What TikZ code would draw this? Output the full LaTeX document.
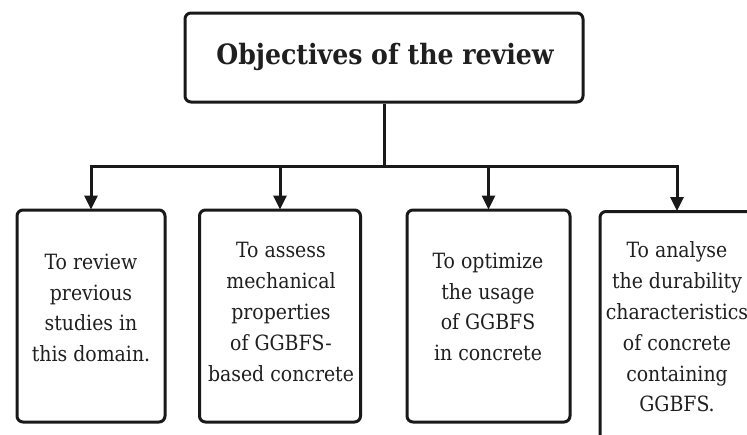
\documentclass[tikz,border=0pt]{standalone}
\usepackage{fontspec}
\setmainfont{DejaVu Serif Condensed}
\usetikzlibrary{arrows.meta}
\tikzset{
  x=1pt, y=-1pt,
  box/.style={draw=black!90, line width=3pt, rounded corners=6pt, inner sep=0pt},
  body/.style={align=center, inner sep=0pt, font=\fontsize{21}{30.8}\selectfont, text=black!88},
  conn/.style={draw=black!90, line width=3pt},
  arr/.style={conn, -{Triangle[length=14pt,width=13pt]}, shorten >=-1pt},
}
\begin{document}
\begin{tikzpicture}
\clip (0,0) rectangle (747,434);
\fill[white] (0,0) rectangle (747,434);
% top box
\node[box, minimum width=398pt, minimum height=89pt] (top) at (384,57.5) {};
\node[font=\bfseries\fontsize{28}{32}\selectfont, text=black!88] (toptxt) at (385,57) {Objectives of the review};
% child boxes
\node[box, minimum width=148pt, minimum height=212pt] (b1) at (91,316) {};
\node[box, minimum width=161pt, minimum height=212pt] (b2) at (280,316) {};
\node[box, minimum width=163pt, minimum height=212pt] (b3) at (488.5,316) {};
\node[box, minimum width=154pt, minimum height=260pt, anchor=north] (b4) at (677,210) {};
% texts
\node[body] (t1) at (91,308) {To review\\previous\\studies in\\this domain.};
\node[body] (t2) at (281,312) {To assess\\mechanical\\properties\\of GGBFS-\\based concrete};
\node[body] (t3) at (488,307) {To optimize\\the usage\\of GGBFS\\in concrete};
\node[body] (t4) at (677,327) {To analyse\\the durability\\characteristics\\of concrete\\containing\\GGBFS.};
% connectors
\coordinate (j) at (384,166);
\draw[conn] (top.south) -- (j);
\draw[arr] (j) -| (b1.north);
\draw[arr] (j) -| (b2.north);
\draw[arr] (j) -| (b3.north);
\draw[arr] (j) -| (b4.north);
\end{tikzpicture}
\end{document}
